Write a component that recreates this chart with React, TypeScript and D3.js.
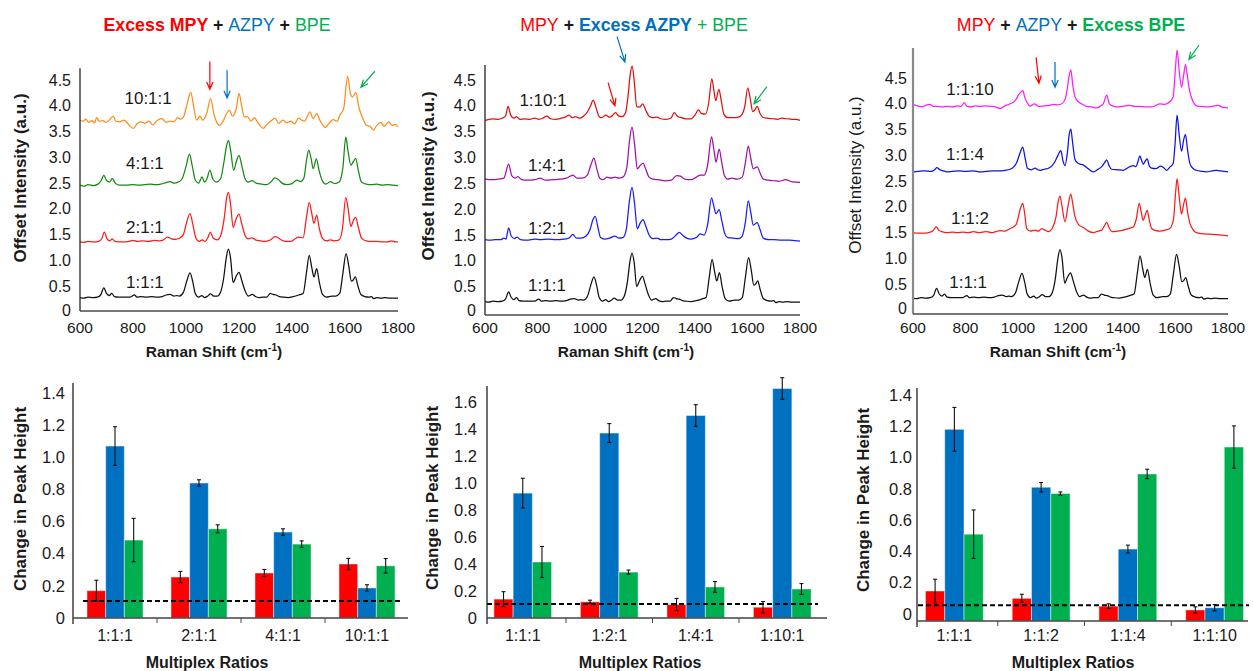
import React from "react";
import * as d3 from "d3";

// ======================= DATA =======================
type Pt = [number, number];

const shiftTicks = [600, 800, 1000, 1200, 1400, 1600, 1800];
const intensityTicks = [0, 0.5, 1, 1.5, 2, 2.5, 3, 3.5, 4, 4.5];

// 1:1:1 reference spectrum (Raman shift, intensity)
const spec111: Pt[] = [[600,0.28],[615,0.27],[630,0.29],[650,0.28],[665,0.29],[678,0.33],[690,0.47],[700,0.36],[710,0.32],[720,0.36],[730,0.30],[745,0.29],[770,0.29],[790,0.29],[805,0.33],[815,0.29],[830,0.30],[850,0.29],[870,0.30],[890,0.29],[910,0.30],[925,0.33],[940,0.34],[955,0.31],[965,0.32],[975,0.31],[990,0.38],[1003,0.6],[1015,0.76],[1025,0.6],[1035,0.36],[1048,0.29],[1060,0.32],[1070,0.28],[1082,0.31],[1092,0.35],[1105,0.31],[1118,0.31],[1130,0.38],[1142,0.65],[1152,1.05],[1160,1.22],[1168,1.05],[1178,0.57],[1188,0.68],[1200,0.77],[1210,0.62],[1222,0.42],[1235,0.31],[1250,0.34],[1262,0.3],[1275,0.28],[1290,0.29],[1305,0.29],[1318,0.36],[1328,0.34],[1340,0.33],[1352,0.3],[1365,0.29],[1385,0.28],[1405,0.3],[1425,0.33],[1442,0.36],[1455,0.78],[1465,1.1],[1475,0.85],[1483,0.68],[1493,0.84],[1503,0.58],[1515,0.34],[1530,0.29],[1550,0.31],[1565,0.31],[1580,0.36],[1592,0.75],[1604,1.13],[1614,0.9],[1624,0.6],[1631,0.62],[1639,0.68],[1648,0.52],[1660,0.34],[1675,0.3],[1690,0.29],[1700,0.3],[1708,0.26],[1720,0.28],[1735,0.27],[1750,0.28],[1770,0.27],[1800,0.27]];
// baseline offset of the 1:1:1 trace in each of the three spectra panels
const offset111 = [0, -0.07, -0.05];

// Excess MPY panel
const spec211: Pt[] = [[600,1.36],[615,1.35],[630,1.37],[650,1.36],[670,1.37],[682,1.42],[692,1.55],[702,1.42],[712,1.38],[722,1.42],[732,1.37],[760,1.36],[785,1.37],[800,1.39],[815,1.37],[835,1.38],[860,1.37],[880,1.39],[900,1.38],[915,1.40],[930,1.45],[945,1.42],[960,1.41],[975,1.43],[990,1.50],[1003,1.75],[1015,1.91],[1025,1.72],[1037,1.44],[1050,1.37],[1062,1.40],[1072,1.37],[1082,1.44],[1092,1.55],[1103,1.43],[1118,1.40],[1132,1.50],[1145,1.85],[1153,2.2],[1160,2.32],[1168,2.1],[1178,1.64],[1190,1.82],[1200,1.90],[1210,1.72],[1222,1.50],[1235,1.42],[1248,1.44],[1262,1.40],[1280,1.38],[1300,1.37],[1320,1.40],[1335,1.46],[1345,1.45],[1358,1.40],[1375,1.37],[1395,1.37],[1412,1.42],[1425,1.45],[1442,1.44],[1455,1.85],[1465,2.12],[1475,1.9],[1483,1.72],[1493,1.88],[1503,1.62],[1515,1.43],[1530,1.38],[1545,1.40],[1560,1.38],[1578,1.40],[1590,1.6],[1603,2.22],[1612,2.0],[1622,1.66],[1632,1.78],[1640,1.84],[1650,1.65],[1662,1.44],[1680,1.38],[1700,1.37],[1720,1.37],[1740,1.36],[1760,1.36],[1775,1.38],[1790,1.36],[1800,1.36]];
const spec411: Pt[] = [[600,2.46],[615,2.44],[630,2.47],[650,2.45],[668,2.48],[680,2.55],[690,2.65],[700,2.55],[712,2.52],[722,2.59],[733,2.5],[750,2.46],[775,2.46],[800,2.47],[820,2.46],[845,2.47],[865,2.48],[885,2.47],[905,2.48],[925,2.51],[940,2.53],[955,2.5],[970,2.52],[985,2.58],[1000,2.82],[1013,3.06],[1023,2.85],[1035,2.56],[1048,2.5],[1060,2.62],[1070,2.52],[1080,2.6],[1090,2.75],[1102,2.57],[1115,2.52],[1130,2.58],[1143,2.9],[1152,3.2],[1160,3.33],[1168,3.15],[1180,2.75],[1190,2.92],[1200,3.04],[1210,2.85],[1222,2.6],[1235,2.52],[1250,2.55],[1265,2.5],[1285,2.48],[1305,2.47],[1322,2.53],[1335,2.6],[1348,2.57],[1362,2.5],[1380,2.47],[1400,2.49],[1418,2.56],[1432,2.53],[1445,2.6],[1455,2.95],[1463,3.14],[1472,2.98],[1480,2.78],[1492,2.97],[1502,2.75],[1514,2.55],[1528,2.48],[1545,2.53],[1560,2.49],[1578,2.52],[1592,2.8],[1603,3.39],[1612,3.1],[1622,2.85],[1632,2.92],[1640,2.98],[1650,2.75],[1662,2.52],[1680,2.48],[1700,2.47],[1720,2.48],[1740,2.46],[1760,2.47],[1780,2.46],[1800,2.45]];
const spec1011: Pt[] = [[600,3.72],[612,3.7],[622,3.74],[633,3.68],[645,3.71],[655,3.67],[663,3.77],[672,3.7],[685,3.71],[698,3.68],[710,3.72],[726,3.8],[735,3.7],[750,3.69],[765,3.72],[780,3.66],[790,3.6],[802,3.56],[815,3.65],[830,3.69],[845,3.66],[860,3.7],[875,3.63],[890,3.71],[909,3.75],[925,3.68],[940,3.7],[955,3.69],[968,3.77],[980,3.74],[992,3.8],[1005,4.05],[1018,4.26],[1030,3.95],[1040,3.72],[1053,3.8],[1063,3.72],[1078,3.85],[1093,4.14],[1105,3.85],[1118,3.66],[1126,3.62],[1140,3.7],[1152,3.84],[1164,3.91],[1175,3.8],[1190,3.95],[1200,4.24],[1210,4.0],[1220,3.78],[1232,3.79],[1245,3.7],[1258,3.77],[1270,3.68],[1282,3.6],[1292,3.56],[1305,3.64],[1320,3.7],[1336,3.76],[1350,3.66],[1365,3.72],[1380,3.67],[1395,3.7],[1410,3.65],[1424,3.76],[1437,3.72],[1448,3.7],[1458,3.8],[1468,3.88],[1480,3.75],[1493,3.85],[1505,3.72],[1515,3.64],[1525,3.58],[1540,3.66],[1556,3.73],[1570,3.7],[1581,3.82],[1595,3.95],[1610,4.57],[1620,4.25],[1628,4.17],[1641,4.26],[1652,3.98],[1662,3.82],[1672,3.7],[1681,3.62],[1695,3.6],[1707,3.53],[1720,3.62],[1735,3.68],[1748,3.6],[1764,3.69],[1778,3.62],[1790,3.64],[1800,3.59]];

// Excess AZPY panel
const spec121: Pt[] = [[600,1.41],[620,1.40],[640,1.41],[660,1.41],[672,1.44],[680,1.42],[690,1.64],[700,1.48],[712,1.43],[722,1.46],[735,1.41],[760,1.40],[790,1.42],[810,1.41],[840,1.42],[870,1.41],[900,1.42],[920,1.44],[935,1.51],[948,1.44],[965,1.44],[985,1.48],[1000,1.6],[1010,1.78],[1020,1.86],[1030,1.65],[1040,1.45],[1055,1.42],[1075,1.44],[1095,1.48],[1110,1.44],[1125,1.45],[1138,1.6],[1150,2.15],[1160,2.42],[1170,2.1],[1180,1.62],[1192,1.74],[1202,1.8],[1212,1.68],[1225,1.5],[1240,1.43],[1255,1.44],[1270,1.41],[1290,1.41],[1310,1.42],[1328,1.5],[1340,1.55],[1352,1.5],[1368,1.44],[1385,1.42],[1405,1.45],[1420,1.52],[1435,1.5],[1448,1.7],[1463,2.22],[1472,2.05],[1480,1.91],[1492,1.99],[1502,1.78],[1512,1.55],[1525,1.45],[1545,1.44],[1565,1.43],[1580,1.48],[1592,1.75],[1603,2.16],[1612,1.95],[1622,1.69],[1637,1.74],[1648,1.6],[1660,1.44],[1680,1.41],[1700,1.41],[1730,1.40],[1760,1.40],[1780,1.39],[1800,1.38]];
const spec141: Pt[] = [[600,2.58],[625,2.57],[650,2.58],[672,2.6],[690,2.87],[702,2.65],[715,2.6],[725,2.63],[740,2.57],[765,2.56],[790,2.57],[810,2.6],[830,2.56],[860,2.57],[885,2.58],[910,2.6],[935,2.66],[950,2.6],[970,2.6],[990,2.66],[1003,2.85],[1015,2.99],[1025,2.8],[1037,2.6],[1050,2.57],[1065,2.62],[1080,2.6],[1095,2.62],[1110,2.6],[1125,2.62],[1140,2.8],[1150,3.3],[1160,3.59],[1170,3.25],[1180,2.78],[1192,2.85],[1202,2.89],[1212,2.78],[1225,2.62],[1240,2.58],[1260,2.57],[1285,2.55],[1310,2.56],[1330,2.65],[1345,2.64],[1360,2.58],[1385,2.57],[1405,2.62],[1420,2.66],[1435,2.66],[1448,2.85],[1463,3.40],[1472,3.15],[1480,2.91],[1492,3.16],[1502,2.9],[1512,2.65],[1525,2.58],[1540,2.6],[1560,2.58],[1580,2.62],[1592,2.9],[1603,3.22],[1612,3.0],[1622,2.78],[1637,2.82],[1648,2.7],[1660,2.58],[1680,2.56],[1700,2.55],[1720,2.54],[1745,2.57],[1770,2.53],[1800,2.52]];
const spec1101: Pt[] = [[600,3.72],[615,3.74],[630,3.75],[650,3.74],[665,3.76],[678,3.8],[688,3.99],[698,3.82],[710,3.76],[720,3.79],[732,3.74],[752,3.75],[770,3.74],[790,3.76],[805,3.74],[820,3.76],[835,3.8],[850,3.75],[870,3.74],[890,3.76],[905,3.78],[920,3.82],[932,3.77],[945,3.79],[960,3.76],[975,3.8],[990,3.88],[1002,4.0],[1012,4.11],[1022,3.98],[1035,3.79],[1045,3.77],[1060,3.82],[1075,3.78],[1087,3.82],[1097,3.87],[1110,3.8],[1122,3.79],[1135,3.86],[1145,4.2],[1153,4.6],[1161,4.77],[1169,4.45],[1178,3.98],[1190,3.98],[1201,4.04],[1212,3.92],[1225,3.8],[1240,3.77],[1255,3.78],[1270,3.75],[1290,3.74],[1308,3.76],[1321,3.87],[1333,3.8],[1348,3.77],[1365,3.75],[1385,3.75],[1400,3.82],[1413,3.92],[1425,3.85],[1440,3.84],[1452,4.05],[1464,4.52],[1472,4.3],[1479,4.1],[1491,4.32],[1500,4.1],[1510,3.84],[1525,3.77],[1545,3.77],[1565,3.78],[1580,3.84],[1590,4.0],[1601,4.35],[1610,4.15],[1620,3.89],[1628,3.92],[1637,3.99],[1647,3.86],[1658,3.78],[1675,3.76],[1695,3.75],[1715,3.74],[1730,3.76],[1750,3.75],[1770,3.74],[1785,3.74],[1800,3.72]];

// Excess BPE panel
const spec112: Pt[] = [[600,1.5],[620,1.49],[641,1.49],[660,1.5],[675,1.53],[689,1.61],[698,1.55],[710,1.52],[729,1.5],[750,1.51],[770,1.5],[790,1.51],[810,1.5],[831,1.52],[850,1.5],[865,1.51],[881,1.52],[900,1.5],[915,1.52],[932,1.54],[950,1.53],[970,1.58],[985,1.62],[995,1.68],[1008,1.95],[1018,2.07],[1026,1.85],[1033,1.58],[1048,1.53],[1065,1.55],[1078,1.53],[1090,1.58],[1103,1.55],[1116,1.52],[1132,1.6],[1145,1.81],[1153,2.1],[1160,2.21],[1168,2.0],[1179,1.71],[1190,2.0],[1201,2.25],[1209,2.05],[1217,1.81],[1232,1.65],[1249,1.6],[1268,1.53],[1287,1.5],[1305,1.53],[1319,1.55],[1330,1.64],[1338,1.7],[1347,1.6],[1357,1.52],[1380,1.53],[1401,1.55],[1420,1.58],[1439,1.61],[1450,1.75],[1462,2.07],[1470,1.88],[1477,1.74],[1485,1.85],[1492,1.93],[1500,1.75],[1509,1.58],[1525,1.54],[1540,1.53],[1560,1.55],[1578,1.58],[1592,1.75],[1600,2.25],[1606,2.55],[1614,2.2],[1623,1.86],[1631,2.05],[1638,2.17],[1646,1.9],[1655,1.68],[1668,1.55],[1680,1.5],[1700,1.48],[1730,1.47],[1760,1.46],[1780,1.45],[1800,1.44]];
const spec114: Pt[] = [[600,2.68],[620,2.69],[645,2.7],[670,2.69],[682,2.72],[691,2.76],[702,2.72],[715,2.7],[729,2.68],[750,2.69],[775,2.7],[800,2.69],[830,2.7],[856,2.68],[880,2.69],[905,2.7],[930,2.7],[950,2.71],[970,2.73],[985,2.78],[995,2.86],[1008,3.05],[1018,3.16],[1027,2.95],[1036,2.75],[1050,2.72],[1065,2.75],[1076,2.72],[1084,2.71],[1100,2.73],[1116,2.75],[1130,2.8],[1141,2.88],[1152,3.0],[1163,3.09],[1172,2.88],[1179,2.8],[1188,3.05],[1195,3.4],[1201,3.51],[1208,3.25],[1217,2.92],[1230,2.84],[1249,2.81],[1268,2.74],[1287,2.68],[1305,2.73],[1319,2.78],[1330,2.86],[1338,2.91],[1347,2.8],[1357,2.73],[1380,2.72],[1401,2.71],[1426,2.78],[1440,2.8],[1449,2.78],[1457,2.88],[1464,2.99],[1471,2.9],[1477,2.83],[1486,2.9],[1492,2.93],[1500,2.8],[1509,2.75],[1525,2.74],[1543,2.79],[1555,2.76],[1566,2.71],[1580,2.78],[1591,2.84],[1598,3.2],[1606,3.78],[1614,3.4],[1623,3.08],[1631,3.3],[1638,3.4],[1646,3.1],[1655,2.84],[1668,2.74],[1680,2.71],[1700,2.69],[1718,2.68],[1740,2.7],[1755,2.71],[1769,2.7],[1785,2.69],[1800,2.68]];
const spec1110: Pt[] = [[600,3.99],[618,3.96],[634,3.94],[648,3.97],[663,3.99],[677,3.95],[691,3.95],[710,3.94],[730,3.95],[750,3.94],[770,3.96],[783,3.95],[795,4.02],[806,3.95],[818,3.94],[838,3.96],[856,3.95],[875,3.96],[895,3.95],[912,3.94],[932,3.91],[950,3.96],[970,4.0],[988,4.05],[1002,4.17],[1010,4.22],[1018,4.26],[1026,4.12],[1033,4.04],[1046,3.95],[1062,4.0],[1078,3.95],[1100,3.96],[1120,3.97],[1135,3.99],[1152,3.98],[1167,4.0],[1180,4.1],[1188,4.3],[1195,4.55],[1201,4.66],[1209,4.35],[1218,4.12],[1230,4.04],[1245,3.99],[1262,3.95],[1280,3.94],[1300,3.92],[1315,3.96],[1325,4.0],[1338,4.17],[1348,4.0],[1360,3.96],[1376,3.94],[1395,3.95],[1410,3.96],[1426,3.97],[1445,3.95],[1464,3.95],[1485,3.94],[1509,3.94],[1525,3.97],[1540,4.0],[1560,3.99],[1578,4.04],[1591,4.13],[1600,4.7],[1606,5.04],[1614,4.65],[1623,4.32],[1631,4.55],[1638,4.76],[1645,4.55],[1652,4.3],[1667,4.04],[1680,3.96],[1693,3.95],[1715,3.94],[1740,3.95],[1762,3.97],[1780,3.93],[1800,3.92]];

// ratio label anchors (shift, intensity)
const labelAnchors1: Pt[] = [[857, 4.15], [845, 2.89], [845, 1.65], [845, 0.58]];
const labelAnchors2: Pt[] = [[821, 4.12], [836, 2.86], [836, 1.64], [836, 0.53]];
const labelAnchors3: Pt[] = [[817, 4.28], [798, 3.02], [817, 1.78], [810, 0.54]];

// marker arrows: [fromShift, fromIntensity, toShift, toIntensity]
const arrows1 = [[1090, 4.86, 1090, 4.32], [1155, 4.69, 1155, 4.15], [1713, 4.67, 1660, 4.36]];
const arrows2 = [[1069, 4.45, 1095, 4.0], [1103, 5.34, 1133, 4.85], [1674, 4.37, 1625, 4.04]];
const arrows3 = [[1069, 4.9, 1080, 4.4], [1141, 4.81, 1141, 4.32], [1690, 5.14, 1651, 4.86]];

// Bar charts
const ratiosMPY = ["1:1:1", "2:1:1", "4:1:1", "10:1:1"];
const ratiosAZPY = ["1:1:1", "1:2:1", "1:4:1", "1:10:1"];
const ratiosBPE = ["1:1:1", "1:1:2", "1:1:4", "1:1:10"];

const mpyA = [0.17, 0.255, 0.28, 0.336];
const mpyAErr = [0.065, 0.035, 0.022, 0.035];
const azpyA = [1.07, 0.84, 0.535, 0.187];
const azpyAErr = [0.12, 0.02, 0.02, 0.02];
const bpeA = [0.485, 0.555, 0.46, 0.325];
const bpeAErr = [0.135, 0.025, 0.02, 0.045];

const mpyB = [0.14, 0.12, 0.1, 0.08];
const mpyBErr = [0.055, 0.012, 0.045, 0.042];
const azpyB = [0.925, 1.37, 1.5, 1.7];
const azpyBErr = [0.11, 0.07, 0.08, 0.08];
const bpeB = [0.415, 0.34, 0.23, 0.215];
const bpeBErr = [0.115, 0.015, 0.04, 0.04];

const mpyC = [0.147, 0.1, 0.05, 0.026];
const mpyCErr = [0.075, 0.026, 0.015, 0.02];
const azpyC = [1.18, 0.81, 0.415, 0.04];
const azpyCErr = [0.14, 0.03, 0.025, 0.02];
const bpeC = [0.51, 0.77, 0.895, 1.067];
const bpeCErr = [0.155, 0.01, 0.03, 0.135];

const thresholds = [0.106, 0.104, 0.056];
const barTicksA = [0, 0.2, 0.4, 0.6, 0.8, 1.0, 1.2, 1.4];
const barTicksB = [0, 0.2, 0.4, 0.6, 0.8, 1.0, 1.2, 1.4, 1.6];

// ======================= STYLE =======================
const FONT = "'Liberation Sans', Arial, Helvetica, sans-serif";
const RED = "#ff0000";
const BLUE = "#0070c0";
const GREEN = "#00b050";
const TXT = "#1a1a1a";

function arrowPath(x1: number, y1: number, x2: number, y2: number) {
  const a = Math.atan2(y2 - y1, x2 - x1);
  const h = 8, s = 0.4;
  return `M${x1},${y1}L${x2},${y2}M${x2 - h * Math.cos(a - s)},${y2 - h * Math.sin(a - s)}L${x2},${y2}L${x2 - h * Math.cos(a + s)},${y2 - h * Math.sin(a + s)}`;
}

type SpecSeries = { data: Pt[]; offset: number; color: string; label: string };

function SpectrumPanel(props: {
  L: any;
  series: SpecSeries[];
  anchors: Pt[];
  arrows: number[][];
  title: React.ReactNode;
}) {
  const { L, series, anchors, arrows, title } = props;
  const x = d3.scaleLinear().domain([600, 1800]).range([L.x0, L.x1]);
  const y = d3.scaleLinear().domain([0, 4.5]).range([L.y0, L.y45]);
  const line = d3
    .line<Pt>()
    .x((d) => x(d[0]))
    .y((d) => y(d[1]))
    .curve(d3.curveMonotoneX);
  const arrowColors = [RED, BLUE, GREEN];
  return (
    <g fontFamily={FONT}>
      <text x={L.titleX} y={25} dy="0.35em" textAnchor="middle" fontSize={17.8} style={{ whiteSpace: "pre" }}>
        {title}
      </text>
      {series.map((s, i) => (
        <path
          key={i}
          d={line(s.data.map((p) => [p[0], p[1] + s.offset] as Pt)) || ""}
          fill="none"
          stroke={s.color}
          strokeWidth={1.25}
          strokeLinejoin="round"
        />
      ))}
      <line x1={L.x0} x2={L.x0} y1={y(L.yMax)} y2={L.axisY} stroke={L.axisColor} strokeWidth={L.axisW} />
      <line x1={L.x0} x2={L.x1} y1={L.axisY} y2={L.axisY} stroke="#4a4a4a" strokeWidth={1.3} />
      {intensityTicks.map((t) => (
        <text key={t} x={L.x0 - L.gap} y={y(t) - (t === 0 ? 2 : 0)} dy="0.35em" textAnchor="end" fontSize={16} fill={TXT}>
          {t === 0 ? "0" : t.toFixed(1)}
        </text>
      ))}
      {shiftTicks.map((t) => (
        <text key={t} x={x(t)} y={L.xLabelY} dy="0.35em" textAnchor="middle" fontSize={15.5} fill={TXT}>
          {t}
        </text>
      ))}
      {series.map((s, i) => (
        <text key={"l" + i} x={x(anchors[i][0])} y={y(anchors[i][1])} dy="0.35em" textAnchor="middle" fontSize={17} fill={TXT}>
          {s.label}
        </text>
      ))}
      {arrows.map((a, i) => (
        <path
          key={"a" + i}
          d={arrowPath(x(a[0]), y(a[1]), x(a[2]), y(a[3]))}
          fill="none"
          stroke={arrowColors[i]}
          strokeWidth={1.2}
        />
      ))}
      <text x={L.xTitleX} y={352} dy="0.35em" textAnchor="middle" fontSize={15.5} fontWeight="bold" fill={TXT}>
        Raman Shift (cm<tspan dy={-6} fontSize={10}>-1</tspan>
        <tspan dy={6}>)</tspan>
      </text>
      <text
        transform={`translate(${L.yTitleX},${L.yTitleY}) rotate(-90)`}
        dy="0.35em"
        textAnchor="middle"
        fontSize={17}
        fontWeight={L.yTitleBold ? "bold" : "normal"}
        fill={TXT}
      >
        Offset Intensity (a.u.)
      </text>
    </g>
  );
}

function BarPanel(props: {
  L: any;
  cats: string[];
  vals: number[][];
  errs: number[][];
  threshold: number;
  ticks: number[];
}) {
  const { L, cats, vals, errs, threshold, ticks } = props;
  const x = d3.scaleBand<string>().domain(cats).range([L.b0, L.b1]).paddingInner(1 / 3).paddingOuter(1 / 6);
  const inner = d3.scaleBand<number>().domain([0, 1, 2]).range([0, x.bandwidth()]);
  const y = d3.scaleLinear().domain([0, 1]).range([L.y0, L.y0 - L.k]);
  const colors = [RED, BLUE, GREEN];
  const step = x.step();
  const bounds = cats.slice(1).map((c) => (x(c) as number) - step * (1 / 6));
  return (
    <g fontFamily={FONT}>
      {cats.map((c, ci) =>
        vals.map((sv, si) => {
          const bx = (x(c) as number) + (inner(si) as number);
          const top = y(sv[ci]);
          return (
            <rect
              key={c + si}
              x={bx}
              y={top}
              width={inner.bandwidth()}
              height={L.axisY - top}
              fill={colors[si]}
              stroke="#ffffff"
              strokeOpacity={0.45}
              strokeWidth={1}
            />
          );
        })
      )}
      {cats.map((c, ci) =>
        vals.map((sv, si) => {
          const cx = (x(c) as number) + (inner(si) as number) + inner.bandwidth() / 2;
          const y1 = y(sv[ci] + errs[si][ci]);
          const y2 = y(sv[ci] - errs[si][ci]);
          return (
            <g key={"e" + c + si} stroke="#111" strokeWidth={1.1}>
              <line x1={cx} x2={cx} y1={y1} y2={y2} />
              <line x1={cx - 2} x2={cx + 2} y1={y1} y2={y1} />
              <line x1={cx - 2} x2={cx + 2} y1={y2} y2={y2} />
            </g>
          );
        })
      )}
      <line x1={L.dash0} x2={L.dash1} y1={y(threshold)} y2={y(threshold)} stroke="#000" strokeWidth={2} strokeDasharray="5,3" />
      <line x1={L.ax} x2={L.ax} y1={L.top} y2={L.axisY + 6} stroke="#222" strokeWidth={1.3} />
      <line x1={L.ax} x2={L.axEnd} y1={L.axisY} y2={L.axisY} stroke="#444" strokeWidth={1.3} />
      {bounds.map((b, i) => (
        <line key={"t" + i} x1={b} x2={b} y1={L.axisY} y2={L.axisY + 5} stroke="#444" strokeWidth={1} />
      ))}
      {ticks.map((t) => (
        <text key={t} x={L.ax - L.gap} y={y(t)} dy="0.35em" textAnchor="end" fontSize={16.5} fill={TXT}>
          {t === 0 ? "0" : t.toFixed(1)}
        </text>
      ))}
      {cats.map((c) => (
        <text key={"c" + c} x={(x(c) as number) + x.bandwidth() / 2} y={635} dy="0.35em" textAnchor="middle" fontSize={16} fill={TXT}>
          {c}
        </text>
      ))}
      <text x={L.titleX} y={662} dy="0.35em" textAnchor="middle" fontSize={16} fontWeight="bold" fill={TXT}>
        Multiplex Ratios
      </text>
      <text
        transform={`translate(${L.yTitleX},${L.yTitleY}) rotate(-90)`}
        dy="0.35em"
        textAnchor="middle"
        fontSize={17}
        fontWeight="bold"
        fill={TXT}
      >
        Change in Peak Height
      </text>
    </g>
  );
}

export default function App() {
  const specL = [
    { x0: 80, x1: 398, y0: 312, y45: 80, yMax: 4.73, axisY: 311, axisColor: "#222", axisW: 1.3, gap: 9, xLabelY: 328, titleX: 217, xTitleX: 214, yTitleX: 20, yTitleY: 178, yTitleBold: true },
    { x0: 485, x1: 800, y0: 312.5, y45: 80, yMax: 4.79, axisY: 315, axisColor: "#222", axisW: 1.3, gap: 9, xLabelY: 328, titleX: 634, xTitleX: 626, yTitleX: 428, yTitleY: 176, yTitleBold: true },
    { x0: 913, x1: 1228, y0: 310, y45: 78, yMax: 5.08, axisY: 314, axisColor: "#8a8a8a", axisW: 2.2, gap: 6, xLabelY: 328, titleX: 1071, xTitleX: 1058, yTitleX: 855, yTitleY: 175, yTitleBold: false },
  ];
  const barL = [
    { b0: 73, b1: 409, y0: 618, k: 160.7, axisY: 618, ax: 73, axEnd: 408, top: 383, gap: 8, dash0: 83, dash1: 400, titleX: 207, yTitleX: 20, yTitleY: 499 },
    { b0: 479.5, b1: 825.5, y0: 618, k: 135, axisY: 618, ax: 487, axEnd: 827, top: 386, gap: 10, dash0: 487, dash1: 818, titleX: 640, yTitleX: 432, yTitleY: 498 },
    { b0: 911, b1: 1258, y0: 614, k: 156.5, axisY: 621, ax: 917, axEnd: 1248, top: 388, gap: 5, dash0: 918, dash1: 1249, titleX: 1073, yTitleX: 863, yTitleY: 500 },
  ];

  const B = { fontWeight: "bold" as const };
  const plus = <tspan fill={TXT} {...B}> + </tspan>;

  return (
    <svg width={1253} height={671} style={{ position: "absolute", left: 0, top: 0, background: "#fff" }}>
      <rect width={1253} height={671} fill="#fff" />
      <SpectrumPanel
        L={specL[0]}
        title={
          <>
            <tspan fill={RED} {...B}>Excess MPY</tspan>
            {plus}
            <tspan fill={BLUE}>AZPY</tspan>
            {plus}
            <tspan fill={GREEN}>BPE</tspan>
          </>
        }
        series={[
          { data: spec1011, offset: 0, color: "#ff8c1a", label: "10:1:1" },
          { data: spec411, offset: 0, color: "#138a13", label: "4:1:1" },
          { data: spec211, offset: 0, color: "#ff1a1a", label: "2:1:1" },
          { data: spec111, offset: offset111[0], color: "#111", label: "1:1:1" },
        ]}
        anchors={labelAnchors1}
        arrows={arrows1}
      />
      <SpectrumPanel
        L={specL[1]}
        title={
          <>
            <tspan fill={RED}>MPY</tspan>
            {plus}
            <tspan fill={BLUE} {...B}>Excess AZPY</tspan>
            <tspan fill={GREEN}> + BPE</tspan>
          </>
        }
        series={[
          { data: spec1101, offset: 0, color: "#e01010", label: "1:10:1" },
          { data: spec141, offset: 0, color: "#a010a8", label: "1:4:1" },
          { data: spec121, offset: 0, color: "#1a1aff", label: "1:2:1" },
          { data: spec111, offset: offset111[1], color: "#111", label: "1:1:1" },
        ]}
        anchors={labelAnchors2}
        arrows={arrows2}
      />
      <SpectrumPanel
        L={specL[2]}
        title={
          <>
            <tspan fill={RED}>MPY</tspan>
            {plus}
            <tspan fill={BLUE}>AZPY</tspan>
            {plus}
            <tspan fill={GREEN} {...B}>Excess BPE</tspan>
          </>
        }
        series={[
          { data: spec1110, offset: 0, color: "#ff1aff", label: "1:1:10" },
          { data: spec114, offset: 0, color: "#1010e8", label: "1:1:4" },
          { data: spec112, offset: 0, color: "#ff1a1a", label: "1:1:2" },
          { data: spec111, offset: offset111[2], color: "#111", label: "1:1:1" },
        ]}
        anchors={labelAnchors3}
        arrows={arrows3}
      />
      <BarPanel L={barL[0]} cats={ratiosMPY} vals={[mpyA, azpyA, bpeA]} errs={[mpyAErr, azpyAErr, bpeAErr]} threshold={thresholds[0]} ticks={barTicksA} />
      <BarPanel L={barL[1]} cats={ratiosAZPY} vals={[mpyB, azpyB, bpeB]} errs={[mpyBErr, azpyBErr, bpeBErr]} threshold={thresholds[1]} ticks={barTicksB} />
      <BarPanel L={barL[2]} cats={ratiosBPE} vals={[mpyC, azpyC, bpeC]} errs={[mpyCErr, azpyCErr, bpeCErr]} threshold={thresholds[2]} ticks={barTicksA} />
    </svg>
  );
}
